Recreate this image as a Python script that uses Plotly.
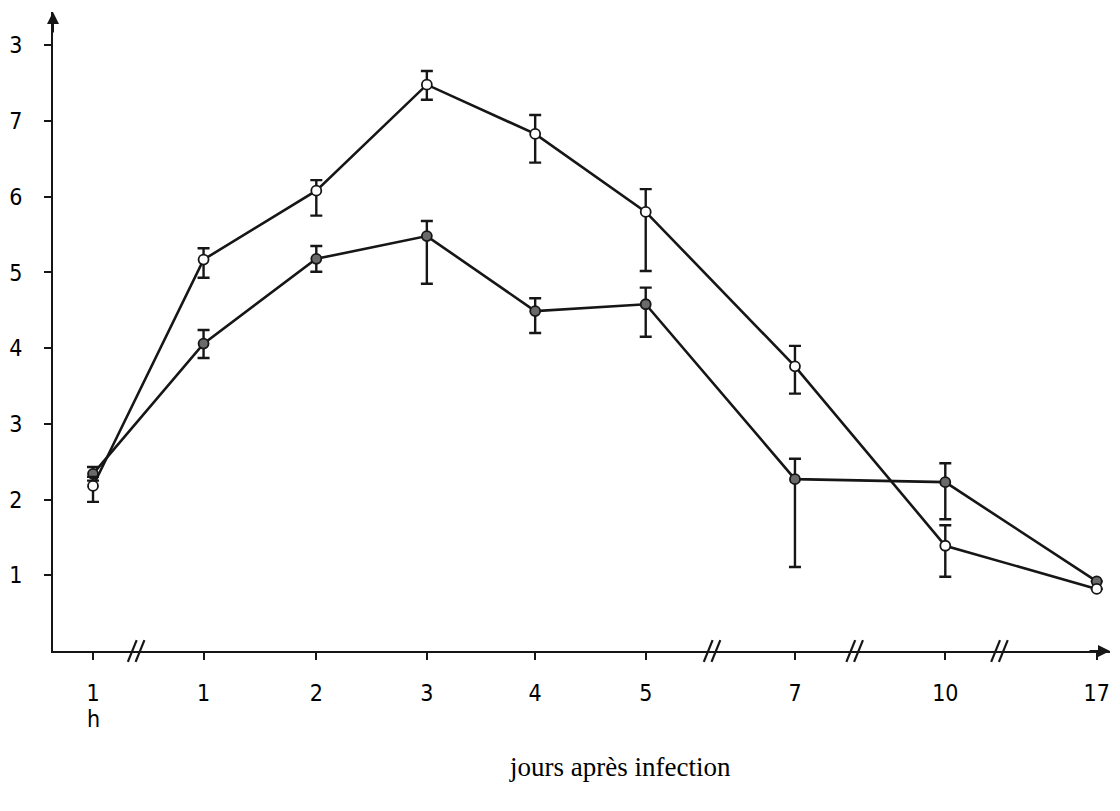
import plotly.graph_objects as go

# ---- data ----
x_labels = ["1", "1", "2", "3", "4", "5", "7", "10", "17"]
open_mean = [2.18, 5.17, 6.08, 7.48, 6.83, 5.80, 3.76, 1.39, 0.82]
open_hi = [2.30, 5.32, 6.22, 7.66, 7.08, 6.10, 4.03, 1.66, 0.82]
open_lo = [1.97, 4.93, 5.75, 7.28, 6.45, 5.02, 3.40, 0.98, 0.82]
filled_mean = [2.34, 4.06, 5.18, 5.48, 4.49, 4.58, 2.27, 2.23, 0.92]
filled_hi = [2.43, 4.24, 5.35, 5.68, 4.66, 4.80, 2.54, 2.48, 0.92]
filled_lo = [2.25, 3.87, 5.01, 4.85, 4.20, 4.15, 1.11, 1.74, 0.92]
y_tickvals = [1, 2, 3, 4, 5, 6, 7, 8]
y_ticktext = ["1", "2", "3", "4", "5", "6", "7", "3"]

# ---- layout helpers (broken axis: positions on the drawn scale) ----
x_pos = [0, 1, 2.02, 3.02, 4.0, 5.0, 6.35, 7.71, 9.08]
break_pos = [0.40, 5.61, 6.90, 8.21]
X_RANGE = [-0.362, 9.2]
Y_RANGE = [0, 8.44]

LINE = "#161616"

def err(mean, hi, lo):
    return [h - m for h, m in zip(hi, mean)], [m - l for m, l in zip(mean, lo)]

fig = go.Figure()

fe_p, fe_m = err(filled_mean, filled_hi, filled_lo)
fig.add_trace(go.Scatter(
    x=x_pos, y=filled_mean, mode="lines+markers",
    line=dict(color=LINE, width=2.6),
    marker=dict(size=10, color="#6a6a6a", line=dict(color=LINE, width=1.8)),
    error_y=dict(type="data", array=fe_p, arrayminus=fe_m, color=LINE,
                 thickness=2.4, width=6),
    showlegend=False,
))

oe_p, oe_m = err(open_mean, open_hi, open_lo)
fig.add_trace(go.Scatter(
    x=x_pos, y=open_mean, mode="lines+markers",
    line=dict(color=LINE, width=2.6),
    marker=dict(size=10, color="white", line=dict(color=LINE, width=1.8)),
    error_y=dict(type="data", array=oe_p, arrayminus=oe_m, color=LINE,
                 thickness=2.4, width=6),
    showlegend=False,
))

tick_font = dict(family="Liberation Sans Narrow, DejaVu Sans Condensed, DejaVu Sans",
                 size=23, color="#000")

fig.update_layout(
    width=1120, height=811,
    margin=dict(l=53, r=10, t=12, b=160),
    paper_bgcolor="white", plot_bgcolor="white",
    xaxis=dict(range=X_RANGE, showgrid=False, zeroline=False,
               showline=True, linecolor=LINE, linewidth=2,
               ticks="outside", ticklen=7, tickwidth=2, tickcolor=LINE,
               tickvals=x_pos, ticktext=x_labels, tickfont=tick_font,
               ticklabelstandoff=13),
    yaxis=dict(range=Y_RANGE, showgrid=False, zeroline=False,
               showline=True, linecolor=LINE, linewidth=2,
               ticks="outside", ticklen=7, tickwidth=2, tickcolor=LINE,
               tickvals=y_tickvals, ticktext=y_ticktext, tickfont=tick_font,
               ticklabelstandoff=17),
)

def xp(v):
    return (v - X_RANGE[0]) / (X_RANGE[1] - X_RANGE[0])

shapes = []
for b in break_pos:
    for off in (-0.045, 0.025):
        shapes.append(dict(type="line", xref="paper", yref="paper",
                           x0=xp(b + off - 0.04), y0=-0.017,
                           x1=xp(b + off + 0.04), y1=0.017,
                           line=dict(color=LINE, width=2.2)))
fig.update_layout(shapes=shapes)

annotations = [
    # axis arrows
    dict(x=1, y=0, xref="paper", yref="paper", ax=-22, ay=0, text="",
         showarrow=True, arrowhead=2, arrowsize=1.2, arrowwidth=2, arrowcolor=LINE),
    dict(x=0, y=1, xref="paper", yref="paper", ax=0, ay=22, text="",
         showarrow=True, arrowhead=2, arrowsize=1.2, arrowwidth=2, arrowcolor=LINE),
    # "h" under first tick
    dict(x=x_pos[0], y=-0.106, xref="x", yref="paper", text="h",
         showarrow=False, font=tick_font, xanchor="center", yanchor="middle"),
    # axis title
    dict(x=0.536, y=-0.1815, xref="paper", yref="paper", text="jours après infection",
         showarrow=False, font=dict(family="Liberation Serif", size=27, color="black"),
         xanchor="center", yanchor="middle"),
]
fig.update_layout(annotations=annotations)

fig.write_html("out.html")
